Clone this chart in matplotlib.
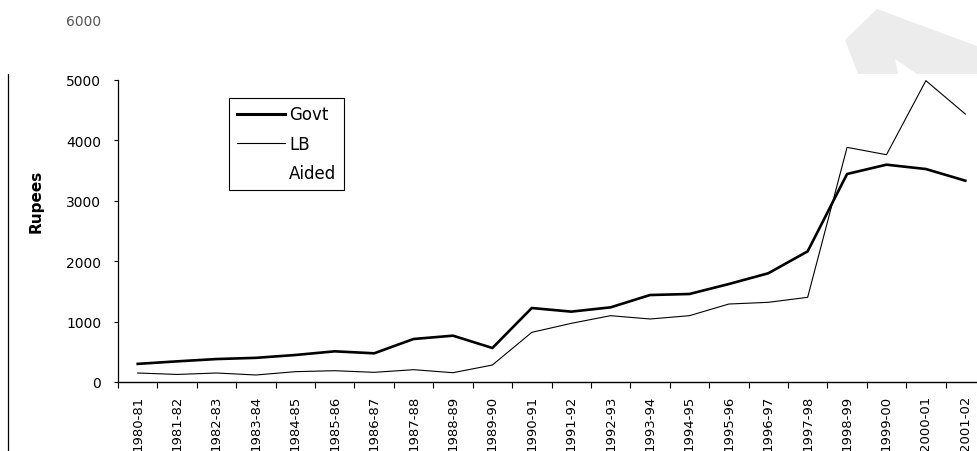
import matplotlib
matplotlib.use("Agg")
import matplotlib.pyplot as plt
from matplotlib.lines import Line2D
from matplotlib.patches import Polygon

plt.rcParams['font.family'] = ['DejaVu Sans']

years = ["1980-81", "1981-82", "1982-83", "1983-84", "1984-85", "1985-86",
         "1986-87", "1987-88", "1988-89", "1989-90", "1990-91", "1991-92",
         "1992-93", "1993-94", "1994-95", "1995-96", "1996-97", "1997-98",
         "1998-99", "1999-00", "2000-01", "2001-02"]
govt = [300, 342, 380, 400, 447, 508, 475, 712, 767, 563, 1225, 1165,
        1236, 1440, 1457, 1622, 1800, 2163, 3444, 3598, 3526, 3333]
lb = [149, 125, 149, 116, 171, 187, 160, 204, 154, 281, 822, 971,
      1098, 1043, 1098, 1291, 1319, 1402, 3885, 3763, 4989, 4437]
yticks = [0, 1000, 2000, 3000, 4000, 5000, 6000]

W, H = 977, 452
fig = plt.figure(figsize=(W / 100, H / 100), dpi=100)
x0, x1 = 118, 985
y0, ytop = 383, 383 - 6 * 60.4
ax = fig.add_axes([x0 / W, 1 - y0 / H, (x1 - x0) / W, (y0 - ytop) / H])
ax.patch.set_alpha(0)

# scanned page artefacts: page border and grey watermark shape
fig.add_artist(Line2D([7.5 / W, 7.5 / W], [0, 1 - 75 / H],
                      transform=fig.transFigure, color='black', lw=0.9))
wm = [(877, 10), (977, 47), (977, 75), (917, 75), (895, 60), (898, 75),
      (858, 75), (845, 41)]
fig.add_artist(Polygon([(px / W, 1 - py / H) for px, py in wm], closed=True,
                       transform=fig.transFigure, facecolor='#ececec',
                       edgecolor='none', zorder=0))

xs = list(range(len(years)))
ax.plot(xs, govt, color='black', lw=1.9, solid_joinstyle='round')
ax.plot(xs, lb, color='black', lw=0.8)

ax.set_xlim(-0.5, len(years) - 0.5)
ax.set_ylim(0, 6000)
ax.set_yticks(yticks)
ax.set_yticklabels([str(v) for v in yticks], fontsize=10)
ax.set_xticks([i - 0.5 for i in range(len(years) + 1)])
ax.set_xticklabels([])
ax.set_xticks(xs, minor=True)
ax.set_xticklabels(years, minor=True, rotation=90, fontsize=9.5)
ax.tick_params(axis='x', which='minor', length=0, pad=9)
ax.tick_params(axis='x', which='major', length=4, width=0.8, direction='out')
ax.tick_params(axis='y', length=3, width=0.8, pad=9)

for s in ['top', 'right']:
    ax.spines[s].set_visible(False)
ax.spines['left'].set_bounds(0, 5000)
ax.spines['left'].set_linewidth(0.9)
ax.spines['bottom'].set_linewidth(1.0)

t6 = ax.yaxis.get_major_ticks()[-1]
t6.tick1line.set_visible(False)
t6.label1.set_color('#555555')

ax.set_ylabel("Rupees", fontsize=11, fontweight='bold')
ax.yaxis.set_label_coords((44 - x0) / (x1 - x0), 0.5)

handles = [Line2D([], [], color='black', lw=2.2),
           Line2D([], [], color='black', lw=0.8),
           Line2D([], [], color='white', lw=0.8)]
leg = fig.legend(handles, ["Govt", "LB", "Aided"], loc='upper left',
                 bbox_to_anchor=(229 / W, 1 - 99 / H), borderaxespad=0,
                 fontsize=12, handlelength=2.9, handletextpad=0.25,
                 borderpad=0.45, labelspacing=0.68, fancybox=False,
                 framealpha=1, edgecolor='black')
leg.get_frame().set_linewidth(0.8)

fig.savefig("out.png", dpi=100)
